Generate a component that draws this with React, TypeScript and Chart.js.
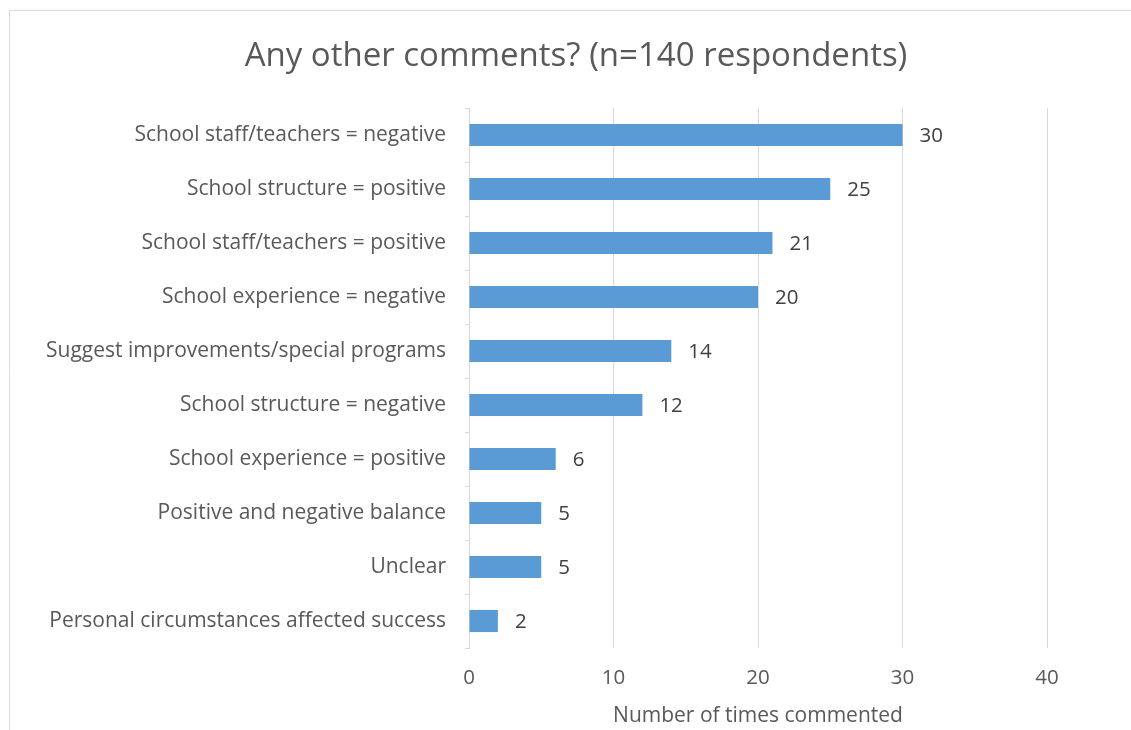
import React, { useEffect, useRef } from "react";
import { Chart, registerables } from "chart.js";

Chart.register(...registerables);

const categories = [
  "School staff/teachers = negative",
  "School structure = positive",
  "School staff/teachers = positive",
  "School experience = negative",
  "Suggest improvements/special programs",
  "School structure = negative",
  "School experience = positive",
  "Positive and negative balance",
  "Unclear",
  "Personal circumstances affected success",
];
const counts = [30, 25, 21, 20, 14, 12, 6, 5, 5, 2];
const xTicks = [0, 10, 20, 30, 40];
const titleText = "Any other comments? (n=140 respondents)";
const xAxisTitle = "Number of times commented";

const FONT = "'Open Sans', sans-serif";

const framePlugin = {
  id: "frame",
  beforeDraw(chart: any) {
    const { ctx, width, height } = chart;
    ctx.save();
    ctx.fillStyle = "#ffffff";
    ctx.fillRect(0, 0, width, height);
    ctx.strokeStyle = "#d9d9d9";
    ctx.lineWidth = 1;
    ctx.beginPath();
    ctx.moveTo(9.5, height);
    ctx.lineTo(9.5, 10.5);
    ctx.lineTo(width, 10.5);
    ctx.stroke();
    ctx.restore();
  },
  afterDraw(chart: any) {
    const { ctx } = chart;
    ctx.save();
    ctx.fillStyle = "#595959";
    ctx.font = `33px ${FONT}`;
    ctx.textAlign = "center";
    ctx.textBaseline = "middle";
    ctx.fillText(titleText, 576, 57);
    ctx.restore();
  },
};

const valueLabelPlugin = {
  id: "valueLabels",
  afterDatasetsDraw(chart: any) {
    const { ctx } = chart;
    const meta = chart.getDatasetMeta(0);
    ctx.save();
    ctx.fillStyle = "#404040";
    ctx.font = `20.5px ${FONT}`;
    ctx.textAlign = "left";
    ctx.textBaseline = "middle";
    meta.data.forEach((bar: any, i: number) => {
      ctx.fillText(String(counts[i]), bar.x + 17, bar.y + 1);
    });
    ctx.restore();
  },
};

export default function App() {
  const ref = useRef<HTMLCanvasElement | null>(null);
  useEffect(() => {
    if (!ref.current) return;
    const chart = new Chart(ref.current, {
      type: "bar",
      data: {
        labels: categories,
        datasets: [
          {
            data: counts,
            backgroundColor: "#5b9bd5",
            borderWidth: 0,
            categoryPercentage: 1,
            barPercentage: 0.41,
          },
        ],
      },
      options: {
        indexAxis: "y",
        animation: false,
        responsive: true,
        maintainAspectRatio: false,
        layout: { padding: { top: 108, left: 0, right: 84, bottom: 0 } },
        plugins: {
          legend: { display: false },
          tooltip: { enabled: false },
          title: { display: false },
        },
        scales: {
          x: {
            min: 0,
            max: 40,
            afterBuildTicks: (scale: any) => {
              scale.ticks = xTicks.map((v) => ({ value: v }));
            },
            afterFit: (scale: any) => {
              scale.height = 82;
            },
            grid: {
              color: (c: any) => (c.tick && c.tick.value === 0 ? "rgba(0,0,0,0)" : "#d9d9d9"),
              drawTicks: false,
              lineWidth: 1,
            },
            border: { display: false },
            ticks: {
              padding: 18,
              color: "#595959",
              font: { family: FONT, size: 20.5 },
            },
            title: {
              display: true,
              text: xAxisTitle,
              color: "#595959",
              font: { family: FONT, size: 21 },
              padding: { top: 0, bottom: 1 },
            },
          },
          y: {
            afterFit: (scale: any) => {
              scale.width = 469;
            },
            grid: {
              drawOnChartArea: false,
              drawTicks: true,
              tickLength: 4,
              color: "#d9d9d9",
            },
            border: { display: true, color: "#d9d9d9" },
            ticks: {
              padding: 19,
              color: "#595959",
              font: { family: FONT, size: 21 },
            },
          },
        },
      },
      plugins: [framePlugin, valueLabelPlugin],
    } as any);
    return () => chart.destroy();
  }, []);
  return (
    <div style={{ position: "fixed", left: 0, top: 0, width: 1131, height: 730 }}>
      <canvas ref={ref} />
    </div>
  );
}
